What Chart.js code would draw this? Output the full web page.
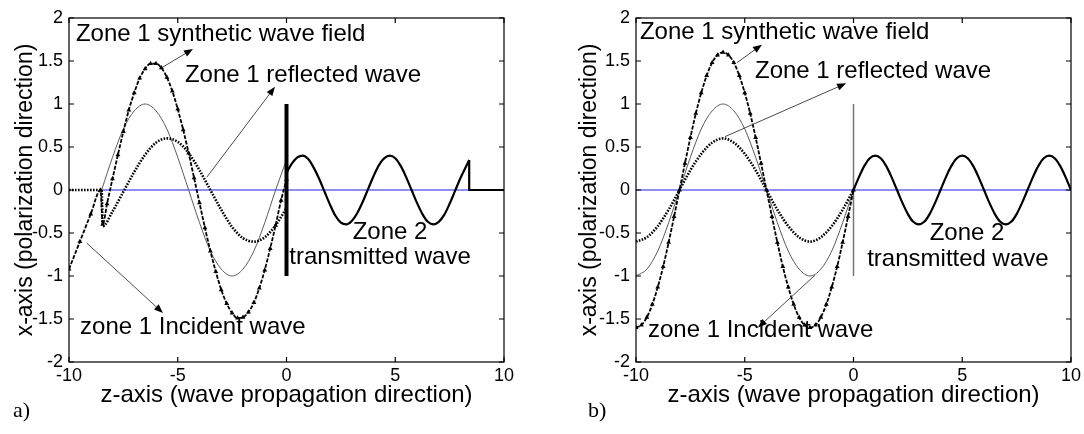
<!DOCTYPE html>
<html>
<head>
<meta charset="utf-8">
<script src="https://cdn.jsdelivr.net/npm/chart.js@4.4.1/dist/chart.umd.min.js"></script>
<style>
  html, body { margin: 0; padding: 0; background: #fff; }
  body { width: 1084px; height: 434px; position: relative; overflow: hidden; }
  canvas { position: absolute; top: 0; }
  #chart-a { left: 0; }
  #chart-b { left: 542px; }
  .tag { position: absolute; top: 397px; font: 22px 'Liberation Serif', 'Times New Roman', serif; color: #000; line-height: 26px; }
</style>
</head>
<body>
<canvas id="chart-a" width="542" height="434"></canvas>
<canvas id="chart-b" width="542" height="434"></canvas>
<div class="tag" style="left:13px">a)</div>
<div class="tag" style="left:588px">b)</div>
<script>
const xTicks = [-10, -5, 0, 5, 10];
const yTicks = [-2, -1.5, -1, -0.5, 0, 0.5, 1, 1.5, 2];
const xTitle = 'z-axis (wave propagation direction)';
const yTitle = 'x-axis (polarization direction)';

// panel a: wave front has not settled yet
const incAZ = [-8.5, -8, -7.5, -7, -6.5, -6, -5.5, -5, -4.5, -4, -3.5, -3, -2.5, -2, -1.5, -1, -0.5, 0];
const incA  = [0, 0.38, 0.71, 0.92, 1.0, 0.92, 0.71, 0.38, 0, -0.38, -0.71, -0.92, -1.0, -0.92, -0.71, -0.38, 0, 0.35];
const refAZ = [-10, -8.5, -8.45, -8, -7.5, -7, -6.5, -6, -5.5, -5, -4.5, -4, -3.5, -3, -2.5, -2, -1.5, -1, -0.5, 0];
const refA  = [0, 0, -0.42, -0.25, -0.02, 0.21, 0.41, 0.55, 0.60, 0.56, 0.43, 0.23, 0, -0.23, -0.43, -0.56, -0.60, -0.55, -0.41, -0.21];
const synAZ = [-10, -9.5, -9, -8.55, -8.45, -8.25, -8, -7.75, -7.5, -7.25, -7, -6.75, -6.5, -6.25, -6, -5.75, -5.5, -5.25, -5, -4.75,
               -4.5, -4.25, -4, -3.75, -3.5, -3.25, -3, -2.75, -2.5, -2.25, -2, -1.75, -1.5, -1.25, -1, -0.75, -0.5, -0.25, 0];
const synA  = [-0.92, -0.6, -0.28, 0, -0.4, -0.16, 0.13, 0.41, 0.68, 0.93, 1.13, 1.30, 1.41, 1.47, 1.47, 1.42, 1.31, 1.15, 0.94, 0.70,
               0.43, 0.14, -0.15, -0.44, -0.71, -0.95, -1.16, -1.32, -1.43, -1.49, -1.48, -1.42, -1.31, -1.14, -0.93, -0.68, -0.41, -0.12, 0.12];
const trAZ  = [0, 0.25, 0.5, 0.75, 1, 1.25, 1.5, 1.75, 2, 2.25, 2.5, 2.75, 3, 3.25, 3.5, 3.75, 4, 4.25, 4.5, 4.75,
               5, 5.25, 5.5, 5.75, 6, 6.25, 6.5, 6.75, 7, 7.25, 7.5, 7.75, 8, 8.25, 8.4];
const trA   = [0.2, 0.31, 0.38, 0.40, 0.36, 0.26, 0.13, -0.02, -0.17, -0.30, -0.38, -0.40, -0.36, -0.27, -0.14, 0.01, 0.16, 0.29, 0.37, 0.40,
               0.37, 0.28, 0.15, 0, -0.15, -0.28, -0.37, -0.40, -0.37, -0.29, -0.16, -0.01, 0.14, 0.27, 0.35];
const trTailAZ = [8.4, 8.4, 10];
const trTailA  = [0.35, 0, 0];
const zeroAZ = [-8.5, 8.4];

// panel b: steady state
const halfZ = [-10, -9.5, -9, -8.5, -8, -7.5, -7, -6.5, -6, -5.5, -5, -4.5, -4, -3.5, -3, -2.5, -2, -1.5, -1, -0.5, 0];
const incB  = [-1, -0.92, -0.71, -0.38, 0, 0.38, 0.71, 0.92, 1, 0.92, 0.71, 0.38, 0, -0.38, -0.71, -0.92, -1, -0.92, -0.71, -0.38, 0];
const refB  = [-0.6, -0.55, -0.42, -0.23, 0, 0.23, 0.42, 0.55, 0.6, 0.55, 0.42, 0.23, 0, -0.23, -0.42, -0.55, -0.6, -0.55, -0.42, -0.23, 0];
const quarterZ = [-10, -9.75, -9.5, -9.25, -9, -8.75, -8.5, -8.25, -8, -7.75, -7.5, -7.25, -7, -6.75, -6.5, -6.25, -6, -5.75, -5.5, -5.25,
                  -5, -4.75, -4.5, -4.25, -4, -3.75, -3.5, -3.25, -3, -2.75, -2.5, -2.25, -2, -1.75, -1.5, -1.25, -1, -0.75, -0.5, -0.25, 0];
const synB  = [-1.6, -1.57, -1.48, -1.33, -1.13, -0.89, -0.61, -0.31, 0, 0.31, 0.61, 0.89, 1.13, 1.33, 1.48, 1.57, 1.6, 1.57, 1.48, 1.33,
               1.13, 0.89, 0.61, 0.31, 0, -0.31, -0.61, -0.89, -1.13, -1.33, -1.48, -1.57, -1.6, -1.57, -1.48, -1.33, -1.13, -0.89, -0.61, -0.31, 0];
const trBZ  = [0, 0.25, 0.5, 0.75, 1, 1.25, 1.5, 1.75, 2, 2.25, 2.5, 2.75, 3, 3.25, 3.5, 3.75, 4, 4.25, 4.5, 4.75,
               5, 5.25, 5.5, 5.75, 6, 6.25, 6.5, 6.75, 7, 7.25, 7.5, 7.75, 8, 8.25, 8.5, 8.75, 9, 9.25, 9.5, 9.75, 10];
const trB   = [0, 0.15, 0.28, 0.37, 0.4, 0.37, 0.28, 0.15, 0, -0.15, -0.28, -0.37, -0.4, -0.37, -0.28, -0.15, 0, 0.15, 0.28, 0.37,
               0.4, 0.37, 0.28, 0.15, 0, -0.15, -0.28, -0.37, -0.4, -0.37, -0.28, -0.15, 0, 0.15, 0.28, 0.37, 0.4, 0.37, 0.28, 0.15, 0];
const zeroBZ = [-10, 10];

const ifaceZ = [0, 0];
const ifaceY = [1, -1];
const zeroY = [0, 0];

const FONT = "'Liberation Sans', Arial, sans-serif";

function pts(xs, ys) {
  return xs.map((x, i) => ({ x: x, y: ys[i] }));
}

function line(data, style) {
  return Object.assign({
    data: data, showLine: true, fill: false, pointRadius: 0, borderWidth: 1,
    cubicInterpolationMode: 'monotone'
  }, style);
}

const INC = { borderColor: '#5a5a5a', borderWidth: 1 };
const REF = { borderColor: '#000', borderWidth: 2.6, borderDash: [1.6, 1.4] };
const SYN = { borderColor: '#000', borderWidth: 1.8, borderDash: [4, 1.5], pointRadius: 2.8, pointStyle: 'triangle',
              pointBackgroundColor: '#000', pointBorderColor: '#000', pointBorderWidth: 0 };
const TRANS = { borderColor: '#000', borderWidth: 2.2 };
const STRAIGHT = { cubicInterpolationMode: 'default', tension: 0 };
const ZERO = Object.assign({ borderColor: 'rgb(105,105,240)', borderWidth: 1.6 }, STRAIGHT);

// box, inward ticks, arrows and labels
function notesPlugin(notes) {
  return {
    id: 'notes',
    afterDraw(chart) {
      const ctx = chart.ctx;
      const a = chart.chartArea;
      const xs = chart.scales.x, ys = chart.scales.y;
      ctx.save();
      ctx.setLineDash([]);
      ctx.strokeStyle = '#000';
      ctx.lineWidth = 1.2;
      ctx.strokeRect(a.left, a.top, a.right - a.left, a.bottom - a.top);
      ctx.beginPath();
      xTicks.forEach(v => {
        const p = xs.getPixelForValue(v);
        ctx.moveTo(p, a.bottom); ctx.lineTo(p, a.bottom - 5);
        ctx.moveTo(p, a.top); ctx.lineTo(p, a.top + 5);
      });
      yTicks.forEach(v => {
        const p = ys.getPixelForValue(v);
        ctx.moveTo(a.left, p); ctx.lineTo(a.left + 5, p);
        ctx.moveTo(a.right, p); ctx.lineTo(a.right - 5, p);
      });
      ctx.stroke();

      notes.arrows.forEach(ar => {
        const x0 = xs.getPixelForValue(ar.from[0]), y0 = ys.getPixelForValue(ar.from[1]);
        const x1 = xs.getPixelForValue(ar.to[0]), y1 = ys.getPixelForValue(ar.to[1]);
        const ang = Math.atan2(y1 - y0, x1 - x0);
        const c = Math.cos(ang), s = Math.sin(ang);
        ctx.strokeStyle = '#4a4a4a';
        ctx.lineWidth = 1;
        ctx.beginPath();
        ctx.moveTo(x0, y0);
        ctx.lineTo(x1 - 6 * c, y1 - 6 * s);
        ctx.stroke();
        ctx.fillStyle = '#000';
        ctx.beginPath();
        ctx.moveTo(x1, y1);
        ctx.lineTo(x1 - 9 * c + 3.5 * s, y1 - 9 * s - 3.5 * c);
        ctx.lineTo(x1 - 9 * c - 3.5 * s, y1 - 9 * s + 3.5 * c);
        ctx.closePath();
        ctx.fill();
      });

      ctx.fillStyle = '#000';
      ctx.font = '24px ' + FONT;
      ctx.textBaseline = 'middle';
      notes.texts.forEach(t => {
        ctx.textAlign = t.align || 'left';
        ctx.fillText(t.text, xs.getPixelForValue(t.at[0]), ys.getPixelForValue(t.at[1]));
      });
      ctx.restore();
    }
  };
}

function makeChart(id, datasets, pad, yTitlePad, notes) {
  return new Chart(document.getElementById(id), {
    type: 'scatter',
    data: { datasets: datasets },
    options: {
      responsive: false,
      animation: false,
      events: [],
      layout: { padding: pad },
      plugins: { legend: { display: false }, tooltip: { enabled: false } },
      scales: {
        x: {
          type: 'linear', min: -10, max: 10,
          afterBuildTicks: s => { s.ticks = xTicks.map(v => ({ value: v })); },
          afterFit: s => { s.height = 72; s.paddingLeft = 0; s.paddingRight = 0; },
          grid: { display: false, drawTicks: false },
          border: { display: false },
          ticks: { font: { family: FONT, size: 18 }, color: '#000', padding: 3, maxRotation: 0, autoSkip: false,
                   callback: v => String(v) },
          title: { display: true, text: xTitle, color: '#000', font: { family: FONT, size: 24 },
                   padding: { top: 0, bottom: 24 } }
        },
        y: {
          type: 'linear', min: -2, max: 2,
          afterBuildTicks: s => { s.ticks = yTicks.map(v => ({ value: v })); },
          afterFit: s => { s.width = 69; s.paddingTop = 0; s.paddingBottom = 0; },
          grid: { display: false, drawTicks: false },
          border: { display: false },
          ticks: { font: { family: FONT, size: 18 }, color: '#000', padding: 6, autoSkip: false,
                   callback: v => String(v) },
          title: { display: true, text: yTitle, color: '#000', font: { family: FONT, size: 23 },
                   padding: { top: yTitlePad, bottom: 0 } }
        }
      }
    },
    plugins: [notesPlugin(notes)]
  });
}

makeChart('chart-a', [
  line(pts(ifaceZ, ifaceY), Object.assign({ borderColor: '#000', borderWidth: 4 }, STRAIGHT)),
  line(pts(trAZ, trA), TRANS),
  line(pts(trTailAZ, trTailA), Object.assign({}, TRANS, STRAIGHT)),
  line(pts(synAZ, synA), SYN),
  line(pts(refAZ, refA), REF),
  line(pts(incAZ, incA), INC),
  line(pts(zeroAZ, zeroY), ZERO)
], { left: 0, top: 18, right: 38, bottom: 0 }, 12, {
  arrows: [
    { from: [-5.68, 1.43], to: [-4.30, 1.64] },
    { from: [-3.66, 0.15], to: [-0.53, 1.20] },
    { from: [-9.17, -0.62], to: [-5.68, -1.43] }
  ],
  texts: [
    { text: 'Zone 1 synthetic wave field', at: [-9.68, 1.81] },
    { text: 'Zone 1 reflected wave', at: [-4.67, 1.33] },
    { text: 'Zone 2', at: [4.76, -0.49], align: 'center' },
    { text: 'transmitted wave', at: [4.30, -0.78], align: 'center' },
    { text: 'zone 1 Incident wave', at: [-9.49, -1.60] }
  ]
});

makeChart('chart-b', [
  line(pts(trBZ, trB), TRANS),
  line(pts(quarterZ, synB), SYN),
  line(pts(halfZ, refB), REF),
  line(pts(halfZ, incB), INC),
  line(pts(ifaceZ, ifaceY), Object.assign({ borderColor: '#777', borderWidth: 1.5 }, STRAIGHT)),
  line(pts(zeroBZ, zeroY), ZERO)
], { left: 25, top: 18, right: 13, bottom: 0 }, 9, {
  arrows: [
    { from: [-5.36, 1.48], to: [-4.21, 1.69] },
    { from: [-5.91, 0.62], to: [-0.34, 1.24] },
    { from: [-1.77, -0.99], to: [-4.39, -1.60] }
  ],
  texts: [
    { text: 'Zone 1 synthetic wave field', at: [-9.82, 1.83] },
    { text: 'Zone 1 reflected wave', at: [-4.53, 1.38] },
    { text: 'Zone 2', at: [5.22, -0.5], align: 'center' },
    { text: 'transmitted wave', at: [4.80, -0.81], align: 'center' },
    { text: 'zone 1 Incident wave', at: [-9.45, -1.63] }
  ]
});
</script>
</body>
</html>
